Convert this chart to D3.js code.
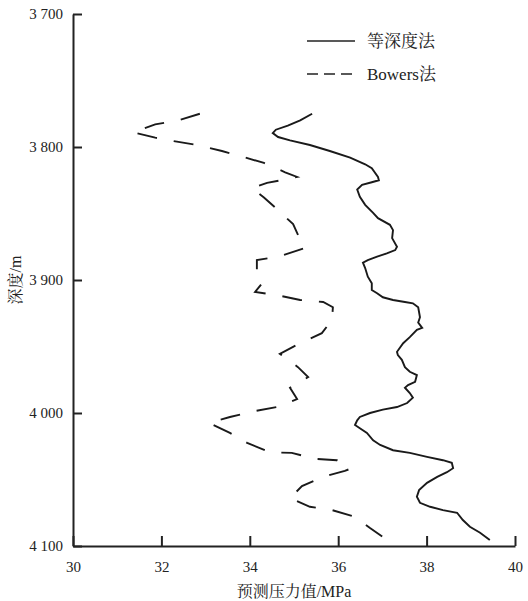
<!DOCTYPE html>
<html>
<head>
<meta charset="utf-8">
<script src="https://cdn.jsdelivr.net/npm/d3@7"></script>
<style>
  body { margin: 0; background: #fff; }
  svg text { font-family: "Liberation Serif", "Noto Serif CJK SC", "Noto Sans CJK SC", serif; fill: #222; }
</style>
</head>
<body>
<svg id="chart"></svg>
<script>
// depth (m) and predicted pressure (MPa)
var eqDepth = [3775, 3780, 3784, 3787, 3789.5, 3792.5, 3795, 3798.5, 3803, 3808, 3813, 3816, 3822.5, 3825, 3826.5, 3828.5, 3832, 3837.5, 3843.5, 3849.5, 3853.5, 3858.5, 3862.5, 3868.5, 3875, 3877.5, 3880, 3882.5, 3885, 3887, 3891, 3897.5, 3902.5, 3907.5, 3910, 3913, 3915, 3916.5, 3917.5, 3920.5, 3928, 3932, 3936, 3937.5, 3943, 3947.5, 3954, 3956.5, 3960, 3965.5, 3969, 3971.5, 3976.5, 3979, 3981, 3985, 3988.5, 3992.5, 3995.5, 3997.5, 4000, 4003, 4005.5, 4009, 4011.5, 4015, 4020.5, 4024, 4028, 4030, 4033, 4035.5, 4037.5, 4041.5, 4044.5, 4048, 4052.5, 4058, 4063, 4067.5, 4070.5, 4073, 4075, 4080.5, 4085.5, 4090, 4095.5];
var eqPress = [35.41, 35.14, 34.86, 34.59, 34.52, 34.64, 34.91, 35.36, 35.81, 36.27, 36.61, 36.76, 36.90, 36.92, 36.76, 36.54, 36.43, 36.49, 36.61, 36.79, 36.90, 37.17, 37.24, 37.22, 37.33, 37.29, 37.10, 36.88, 36.67, 36.56, 36.61, 36.67, 36.76, 36.76, 36.88, 37.01, 37.24, 37.51, 37.69, 37.81, 37.85, 37.81, 37.90, 37.78, 37.62, 37.47, 37.33, 37.35, 37.44, 37.51, 37.62, 37.78, 37.74, 37.58, 37.51, 37.62, 37.69, 37.56, 37.33, 37.01, 36.72, 36.49, 36.43, 36.38, 36.49, 36.65, 36.79, 36.95, 37.24, 37.62, 38.01, 38.37, 38.57, 38.60, 38.46, 38.24, 38.01, 37.83, 37.78, 37.85, 38.08, 38.37, 38.69, 38.82, 38.98, 39.21, 39.43];

var bowDepth = [3775, 3780, 3783, 3789, 3793, 3796, 3798.5, 3803, 3807.5, 3812, 3819, 3822.5, 3824, 3827, 3831, 3838, 3846, 3858, 3866, 3876, 3882.5, 3885, 3894.5, 3902.5, 3909, 3911.5, 3915, 3916.5, 3920.5, 3930, 3940, 3947.5, 3955.5, 3965.5, 3973, 3981, 3989.5, 3995.5, 3998.5, 4003, 4007.5, 4015, 4022.5, 4029.5, 4030, 4034.5, 4035.5, 4042, 4043.5, 4048, 4055, 4064, 4070.5, 4073, 4078, 4086.5, 4097];
var bowPress = [32.87, 32.38, 31.86, 31.36, 31.86, 32.35, 32.81, 33.37, 33.85, 34.32, 34.80, 35.07, 34.86, 34.39, 34.05, 34.32, 34.59, 34.98, 35.09, 35.25, 34.64, 34.16, 34.16, 34.28, 34.12, 34.64, 35.14, 35.66, 35.88, 35.86, 35.63, 35.14, 34.68, 35.09, 35.32, 34.91, 35.07, 34.62, 34.12, 33.55, 33.08, 33.55, 33.94, 34.46, 34.95, 35.48, 35.97, 36.27, 36.15, 35.66, 35.18, 34.91, 35.36, 35.86, 36.38, 36.72, 37.17];

var xTicks = [30, 32, 34, 36, 38, 40];
var yTicks = [3700, 3800, 3900, 4000, 4100];
var seriesNames = ["等深度法", "Bowers法"];

var W = 528, H = 601;
var margin = {top: 14, right: 13, bottom: 55, left: 73};

var svg = d3.select("#chart").attr("width", W).attr("height", H);

var x = d3.scaleLinear().domain([30, 40]).range([margin.left, W - margin.right]);
var y = d3.scaleLinear().domain([3700, 4100]).range([margin.top, H - margin.bottom]);

var fmt = d3.formatLocale({decimal: ".", thousands: " ", grouping: [3], currency: ["", ""]}).format(",");

// axes
var xAxis = svg.append("g")
	.attr("transform", "translate(0," + y(4100) + ")")
	.call(d3.axisBottom(x).tickValues(xTicks).tickSize(-10).tickPadding(12).tickSizeOuter(0));
var yAxis = svg.append("g")
	.attr("transform", "translate(" + x(30) + ",0)")
	.call(d3.axisLeft(y).tickValues(yTicks).tickFormat(fmt).tickSize(-9).tickPadding(10).tickSizeOuter(0));

[xAxis, yAxis].forEach(function(a) {
	a.select(".domain").attr("stroke", "#222").attr("stroke-width", 2);
	a.selectAll(".tick line").attr("stroke", "#222").attr("stroke-width", 2);
	a.selectAll(".tick text").attr("font-size", 15).attr("font-family", "Liberation Serif, serif").attr("fill", "#222");
});
xAxis.selectAll(".tick text").attr("dy", "0.9em");

// axis titles
svg.append("text")
	.attr("x", (x(30) + x(40)) / 2)
	.attr("y", 597)
	.attr("text-anchor", "middle")
	.attr("font-size", 16)
	.text("预测压力值/MPa");

svg.append("text")
	.attr("transform", "translate(21," + y(3900) + ") rotate(-90)")
	.attr("text-anchor", "middle")
	.attr("font-size", 16)
	.text("深度/m");

// lines
var line = d3.line()
	.x(function(d) { return x(d[0]); })
	.y(function(d) { return y(d[1]); });

var eqData = d3.zip(eqPress, eqDepth);
var bowData = d3.zip(bowPress, bowDepth);

svg.append("path")
	.datum(eqData)
	.attr("d", line)
	.attr("fill", "none")
	.attr("stroke", "#1a1a1a")
	.attr("stroke-width", 1.9);

svg.append("path")
	.datum(bowData)
	.attr("d", line)
	.attr("fill", "none")
	.attr("stroke", "#1a1a1a")
	.attr("stroke-width", 1.9)
	.attr("stroke-dasharray", "20,17");

// legend
var legend = svg.append("g").attr("transform", "translate(307,41)");
seriesNames.forEach(function(name, i) {
	var g = legend.append("g").attr("transform", "translate(0," + (i * 33) + ")");
	g.append("line")
		.attr("x1", 0).attr("x2", 48)
		.attr("stroke", "#222").attr("stroke-width", 1.3)
		.attr("stroke-dasharray", i === 0 ? null : "11,6");
	g.append("text")
		.attr("x", 60)
		.attr("dy", "0.35em")
		.attr("font-size", 17)
		.text(name);
});
</script>
</body>
</html>
